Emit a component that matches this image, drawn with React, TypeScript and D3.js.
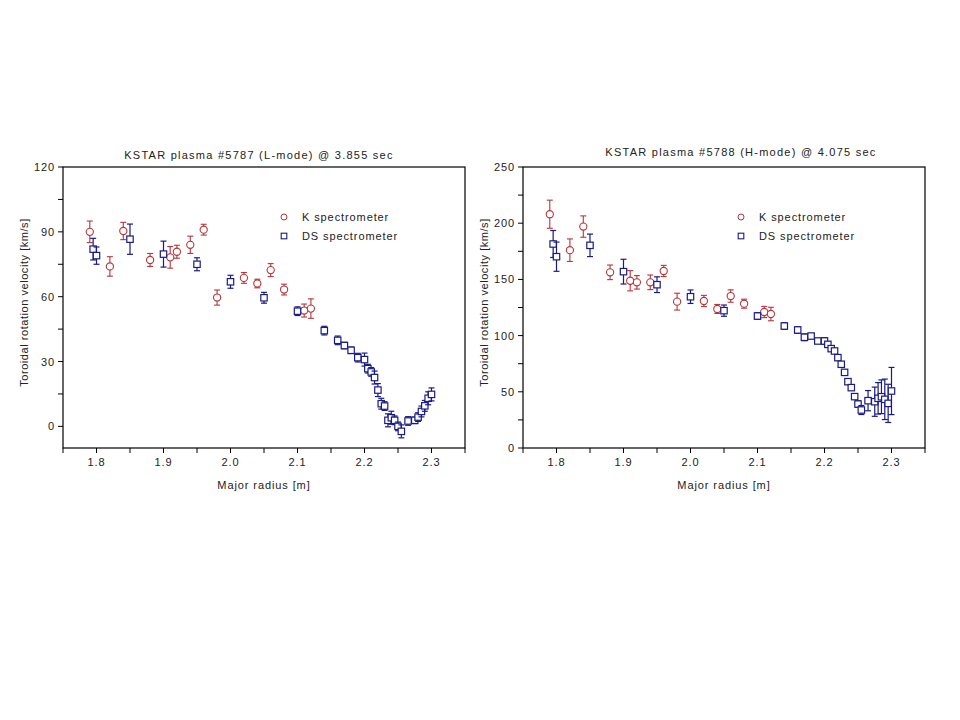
import React from "react";
import * as d3 from "d3";

// ---- Left panel data (L-mode #5787) ----
const leftKR = [1.79, 1.82, 1.84, 1.88, 1.91, 1.92, 1.94, 1.96, 1.98, 2.02, 2.04, 2.06, 2.08, 2.11, 2.12];
const leftKV = [90, 74, 90.4, 77, 78.2, 80.8, 84, 91, 59.6, 68.7, 66.1, 72.3, 63.3, 53.6, 54.5];
const leftKE = [5, 4.5, 4, 3, 5, 3, 4, 2.5, 3.5, 2.5, 2, 3, 2.5, 3, 4.5];

const leftDR = [1.795, 1.8, 1.85, 1.9, 1.95, 2.0, 2.05, 2.1, 2.14, 2.16, 2.17, 2.18, 2.19, 2.2, 2.205, 2.21, 2.215, 2.22, 2.225, 2.23, 2.235, 2.24, 2.245, 2.25, 2.255, 2.265, 2.275, 2.28, 2.285, 2.29, 2.295, 2.3];
const leftDV = [82, 79, 86.6, 79.7, 75, 66.9, 59.5, 53.3, 44.3, 39.8, 37.4, 35.2, 31.8, 30.9, 26.7, 25.2, 22.6, 16.8, 10.5, 9.4, 2.8, 4.0, 2.8, 0, -2.3, 2.5, 2.8, 4.3, 6.9, 9.5, 13, 14.8];
const leftDE = [5, 4, 7, 6, 3, 3, 2.5, 2, 2, 2, 1.5, 1.5, 2, 3, 2, 2, 3, 3, 2.5, 2, 3, 3, 2, 2, 3, 2, 1.5, 2, 2.5, 2.5, 3, 3];

// ---- Right panel data (H-mode #5788) ----
const rightKR = [1.79, 1.82, 1.84, 1.88, 1.91, 1.92, 1.94, 1.96, 1.98, 2.02, 2.04, 2.06, 2.08, 2.11, 2.12];
const rightKV = [208, 176, 197, 156.3, 148.8, 147.4, 147.4, 157.5, 130.2, 130.8, 123.7, 135.2, 128.4, 121, 119.2];
const rightKE = [12.5, 10, 9.5, 6.5, 9, 6, 6.5, 5, 7.5, 5, 4, 5.5, 4, 5, 6];

const rightDR = [1.795, 1.8, 1.85, 1.9, 1.95, 2.0, 2.05, 2.1, 2.14, 2.16, 2.17, 2.18, 2.19, 2.2, 2.205, 2.21, 2.215, 2.22, 2.225, 2.23, 2.235, 2.24, 2.245, 2.25, 2.255, 2.265, 2.275, 2.28, 2.285, 2.29, 2.295, 2.3];
const rightDV = [181.5, 170.2, 180.3, 156.9, 145.3, 134.6, 122.2, 117.4, 108.5, 105, 98.5, 99.6, 95.2, 95.2, 92.2, 88.4, 86.3, 80.4, 74.5, 67.3, 59, 53.7, 45.7, 39.1, 33.8, 42.1, 41.2, 44.2, 45.6, 43.3, 39.7, 50.7];
const rightDE = [12, 13, 10, 11, 7, 6, 5, 3, 3, 3, 3, 2, 2, 3, 2, 2, 2, 2, 2, 2, 2, 2, 2, 3, 4, 9, 13, 14, 15, 18, 17, 21];

const xTicks = [1.8, 1.9, 2.0, 2.1, 2.2, 2.3];
const leftYTicks = [0, 30, 60, 90, 120];
const rightYTicks = [0, 50, 100, 150, 200, 250];

const RED = "#b5363a";
const BLUE = "#1b1b85";
const FONT = "'Liberation Sans', Arial, sans-serif";

type PanelProps = {
  x0: number;
  title: string;
  titleX: number;
  titleY: number;
  yDomain: [number, number];
  yTicks: number[];
  yMinorStep: number;
  kR: number[]; kV: number[]; kE: number[];
  dR: number[]; dV: number[]; dE: number[];
  legendX: number;
};

function Panel(p: PanelProps) {
  const left = p.x0, right = p.x0 + 402, top = 167, bottom = 448;
  const x = d3.scaleLinear().domain([1.75, 2.35]).range([left, right]);
  const y = d3.scaleLinear().domain(p.yDomain).range([bottom, top]);
  const xAll = d3.range(1.75, 2.3501, 0.05);
  const yMinor: number[] = [];
  for (let v = p.yTicks[0]; v <= p.yDomain[1] + 1e-9; v += p.yMinorStep) yMinor.push(v);
  const cap = 3;
  const txt = { fontFamily: FONT, fontSize: 11, fill: "#222", letterSpacing: "0.9px" } as const;
  return (
    <g>
      <text x={p.titleX} y={p.titleY} textAnchor="middle" {...txt} letterSpacing="1.25px">{p.title}</text>
      <rect x={left} y={top} width={right - left} height={bottom - top} fill="none" stroke="#000" strokeWidth={1.2} />
      {xAll.map((v, i) => (
        <line key={"xt" + i} x1={x(v)} x2={x(v)} y1={bottom} y2={bottom + 5} stroke="#000" strokeWidth={1} />
      ))}
      {xTicks.map((v) => (
        <text key={"xl" + v} x={x(v)} y={bottom + 18} textAnchor="middle" {...txt}>{v.toFixed(1)}</text>
      ))}
      {yMinor.map((v, i) => (
        <line key={"yt" + i} x1={left - 5} x2={left} y1={y(v)} y2={y(v)} stroke="#000" strokeWidth={1} />
      ))}
      {p.yTicks.map((v) => (
        <text key={"yl" + v} x={left - 8} y={y(v) + 4} textAnchor="end" {...txt}>{v}</text>
      ))}
      <text x={(left + right) / 2} y={bottom + 41} textAnchor="middle" {...txt}>Major radius [m]</text>
      <text transform={`translate(${left - 35},${(top + bottom) / 2 - 5}) rotate(-90)`} textAnchor="middle" {...txt} letterSpacing="0.55px">
        Toroidal rotation velocity [km/s]
      </text>
      {/* K spectrometer */}
      {p.kR.map((r, i) => {
        const cx = x(r), cy = y(p.kV[i]), y1 = y(p.kV[i] + p.kE[i]), y2 = y(p.kV[i] - p.kE[i]);
        return (
          <g key={"k" + i} stroke={RED} strokeWidth={1.1} fill="none">
            <line x1={cx} x2={cx} y1={y1} y2={y2} />
            <line x1={cx - cap} x2={cx + cap} y1={y1} y2={y1} />
            <line x1={cx - cap} x2={cx + cap} y1={y2} y2={y2} />
            <circle cx={cx} cy={cy} r={3.6} fill="#fff" />
          </g>
        );
      })}
      {/* DS spectrometer */}
      {p.dR.map((r, i) => {
        const cx = x(r), cy = y(p.dV[i]), y1 = y(p.dV[i] + p.dE[i]), y2 = y(p.dV[i] - p.dE[i]);
        return (
          <g key={"d" + i} stroke={BLUE} strokeWidth={1.2} fill="none">
            <line x1={cx} x2={cx} y1={y1} y2={y2} />
            <line x1={cx - cap} x2={cx + cap} y1={y1} y2={y1} />
            <line x1={cx - cap} x2={cx + cap} y1={y2} y2={y2} />
            <rect x={cx - 3.2} y={cy - 3.2} width={6.4} height={6.4} fill="#fff" />
          </g>
        );
      })}
      {/* legend */}
      <circle cx={p.legendX} cy={217} r={3} fill="none" stroke={RED} strokeWidth={1} />
      <text x={p.legendX + 18} y={221} {...txt}>K spectrometer</text>
      <rect x={p.legendX - 2.8} y={233.2} width={5.6} height={5.6} fill="none" stroke={BLUE} strokeWidth={1.1} />
      <text x={p.legendX + 18} y={240} {...txt}>DS spectrometer</text>
    </g>
  );
}

export default function App() {
  return (
    <svg width={960} height={720} style={{ position: "absolute", left: 0, top: 0, background: "#fff" }}>
      <rect width={960} height={720} fill="#fff" />
      <Panel
        x0={63}
        title="KSTAR plasma #5787 (L-mode) @ 3.855 sec"
        titleX={259}
        titleY={159}
        yDomain={[-10, 120]}
        yTicks={leftYTicks}
        yMinorStep={15}
        kR={leftKR} kV={leftKV} kE={leftKE}
        dR={leftDR} dV={leftDV} dE={leftDE}
        legendX={284}
      />
      <Panel
        x0={523}
        title="KSTAR plasma #5788 (H-mode) @ 4.075 sec"
        titleX={741}
        titleY={156}
        yDomain={[0, 250]}
        yTicks={rightYTicks}
        yMinorStep={25}
        kR={rightKR} kV={rightKV} kE={rightKE}
        dR={rightDR} dV={rightDV} dE={rightDE}
        legendX={741}
      />
    </svg>
  );
}
